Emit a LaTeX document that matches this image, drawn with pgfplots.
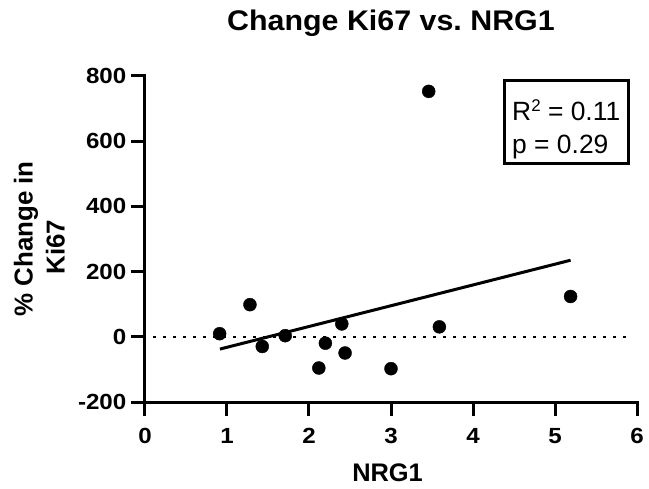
\documentclass[border=0pt]{standalone}
\usepackage{fontspec}
\setmainfont{Liberation Sans}
\newfontfamily\wide[FakeStretch=1.1]{Liberation Sans}
\newfontfamily\widet[FakeStretch=1.07]{Liberation Sans}
\usepackage{pgfplots}
\pgfplotsset{compat=1.18}
\begin{document}
\begin{tikzpicture}
\useasboundingbox (-145bp,-86.7bp) rectangle (504bp,402.3bp);
\begin{axis}[
  scale only axis,
  width=492bp, height=326.6bp,
  xmin=0, xmax=6, ymin=-200, ymax=800,
  axis lines=left,
  axis line style={-, line width=3bp, line cap=rect},
  clip=false,
  xtick={0,1,2,3,4,5,6},
  xticklabels={0,1,2,3,4,5,6},
  ytick={-200,0,200,400,600,800},
  yticklabels={-200,0,200,400,600,800},
  tick align=outside,
  major tick length=14bp,
  tick style={line width=3bp, black},
  ticklabel style={font=\wide\fontsize{22}{26}\selectfont\bfseries, inner sep=0pt},
  xticklabel style={yshift=-12bp},
  yticklabel style={xshift=-4.5bp},
  title={Change Ki67 vs.\ NRG1},
  title style={font=\widet\fontsize{28.5}{34}\selectfont\bfseries, inner sep=0pt, at={(rel axis cs:0.5,1.119)}, anchor=base},
  xlabel={NRG1},
  xlabel style={font=\fontsize{25.5}{30}\selectfont\bfseries, inner sep=0pt, at={(rel axis cs:0.493,-0.244)}, anchor=base},
  ylabel={\% Change in\\Ki67\kern16bp},
  ylabel style={font=\fontsize{26}{32}\selectfont\bfseries, align=center, inner sep=0pt, at={(rel axis cs:-0.1626,0.5)}, anchor=south},
]
\addplot[only marks, mark=*, mark size=6.5bp, black] coordinates {
(0.91,10) (1.28,99) (1.43,-29) (1.71,4) (2.12,-95) (2.20,-19)
(2.40,40) (2.44,-49) (3.00,-97) (3.46,752) (3.59,31) (5.19,124)
};
\addplot[line width=3bp, black] coordinates {(0.914,-37) (5.19,235)};
\addplot[line width=2.5bp, black, dash pattern=on 2.5bp off 7.5bp] coordinates {(0.1,0) (5.92,0)};
\draw[line width=3bp] (axis cs:4.384,785.3) rectangle (axis cs:5.896,531.2);
\node[anchor=base west, inner sep=0pt, font=\fontsize{26.5}{30}\selectfont] at (axis cs:4.476,662.2) {R\raisebox{9bp}{\fontsize{17}{20}\selectfont 2} = 0.11};
\node[anchor=base west, inner sep=0pt, font=\fontsize{26.5}{30}\selectfont] at (axis cs:4.476,562.4) {p = 0.29};
\end{axis}
\end{tikzpicture}
\end{document}
